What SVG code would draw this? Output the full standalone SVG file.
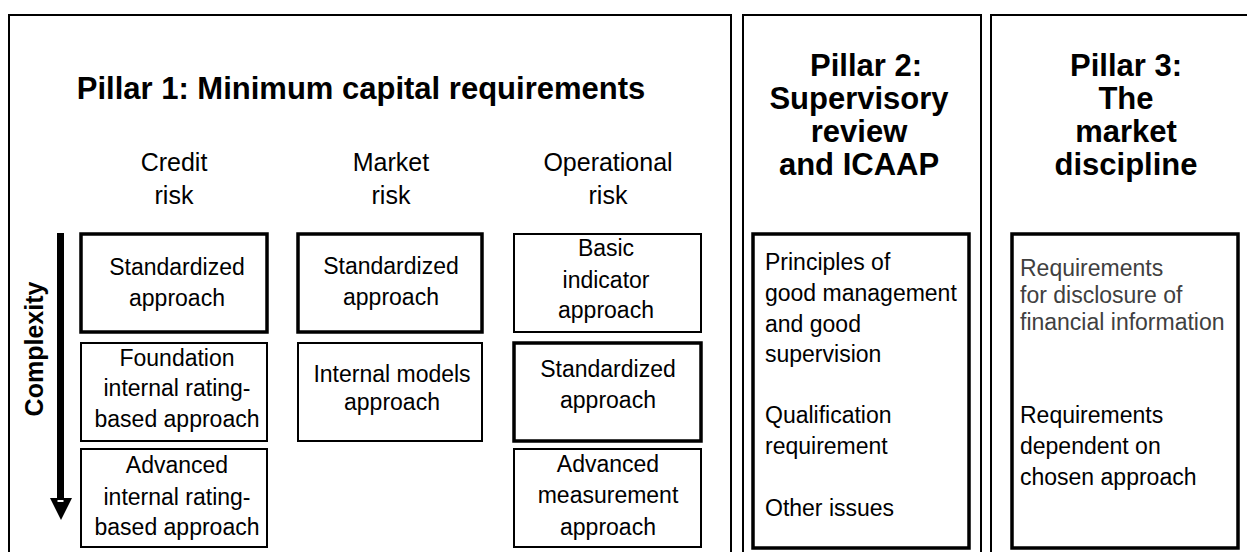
<svg xmlns="http://www.w3.org/2000/svg" width="1247" height="552" viewBox="0 0 1247 552">
  <style>
    .frame { fill: none; stroke: #000; stroke-width: 2; }
    .box { fill: #fff; stroke: #000; stroke-width: 2; }
    .strong { stroke-width: 3.5; }
    text { font-family: "Liberation Sans", Arial, sans-serif; fill: #000; }
    .title { font-size: 31px; font-weight: bold; text-anchor: middle; }
    .col { font-size: 25px; text-anchor: middle; }
    .item { font-size: 23px; text-anchor: middle; }
    .list { font-size: 23px; }
    .muted { fill: #404040; }
    .axis { font-size: 25px; font-weight: bold; text-anchor: middle; }
  </style>

  <rect width="1247" height="552" fill="#fff"/>

  <!-- Pillar 1 frame, heading and risk columns -->
  <g id="pillar1">
    <rect class="frame" x="9" y="15" width="722" height="560"/>
    <text class="title" x="361" y="99">Pillar 1: Minimum capital requirements</text>
    <text class="col" x="174" y="171">Credit</text>
    <text class="col" x="174" y="204">risk</text>
    <text class="col" x="391" y="171">Market</text>
    <text class="col" x="391" y="204">risk</text>
    <text class="col" x="608" y="171">Operational</text>
    <text class="col" x="608" y="204">risk</text>
  </g>

  <!-- Credit risk approaches -->
  <g id="credit-standardized">
    <rect class="box strong" x="81" y="234" width="186" height="98"/>
    <text class="item" x="177" y="275">Standardized</text>
    <text class="item" x="177" y="306">approach</text>
  </g>
  <g id="credit-foundation-irb">
    <rect class="box" x="81" y="343" width="186" height="98"/>
    <text class="item" x="177" y="366">Foundation</text>
    <text class="item" x="177" y="396">internal rating-</text>
    <text class="item" x="177" y="427">based approach</text>
  </g>
  <g id="credit-advanced-irb">
    <rect class="box" x="81" y="449" width="186" height="98"/>
    <text class="item" x="177" y="473">Advanced</text>
    <text class="item" x="177" y="505">internal rating-</text>
    <text class="item" x="177" y="535">based approach</text>
  </g>

  <!-- Market risk approaches -->
  <g id="market-standardized">
    <rect class="box strong" x="298" y="234" width="184" height="98"/>
    <text class="item" x="391" y="274">Standardized</text>
    <text class="item" x="391" y="305">approach</text>
  </g>
  <g id="market-internal-models">
    <rect class="box" x="298" y="343" width="184" height="98"/>
    <text class="item" x="392" y="382">Internal models</text>
    <text class="item" x="392" y="410">approach</text>
  </g>

  <!-- Operational risk approaches -->
  <g id="operational-basic">
    <rect class="box" x="514" y="234" width="187" height="98"/>
    <text class="item" x="606" y="256">Basic</text>
    <text class="item" x="606" y="288">indicator</text>
    <text class="item" x="606" y="318">approach</text>
  </g>
  <g id="operational-standardized">
    <rect class="box strong" x="514" y="343" width="187" height="98"/>
    <text class="item" x="608" y="377">Standardized</text>
    <text class="item" x="608" y="408">approach</text>
  </g>
  <g id="operational-advanced">
    <rect class="box" x="514" y="449" width="187" height="98"/>
    <text class="item" x="608" y="472">Advanced</text>
    <text class="item" x="608" y="503">measurement</text>
    <text class="item" x="608" y="535">approach</text>
  </g>

  <!-- Complexity axis: thick downward arrow with rotated label -->
  <g id="complexity">
    <rect x="57" y="233" width="7" height="268" fill="#000"/>
    <polygon points="50,498 72,498 61,520" fill="#000"/>
    <rect x="57.5" y="500" width="6" height="2" fill="#fff"/>
    <text class="axis" transform="translate(43,349) rotate(-90)">Complexity</text>
  </g>

  <!-- Pillar 2 -->
  <g id="pillar2">
    <rect class="frame" x="743" y="15" width="238" height="560"/>
    <text class="title" x="866" y="76">Pillar 2:</text>
    <text class="title" x="859" y="109">Supervisory</text>
    <text class="title" x="859" y="142">review</text>
    <text class="title" x="859" y="175">and ICAAP</text>
  </g>
  <g id="pillar2-content">
    <rect class="box strong" x="753" y="234" width="216" height="314"/>
    <text class="list" x="765" y="270">Principles of</text>
    <text class="list" x="765" y="301">good management</text>
    <text class="list" x="765" y="332">and good</text>
    <text class="list" x="765" y="362">supervision</text>
    <text class="list" x="765" y="423">Qualification</text>
    <text class="list" x="765" y="454">requirement</text>
    <text class="list" x="765" y="516">Other issues</text>
  </g>

  <!-- Pillar 3 -->
  <g id="pillar3">
    <rect class="frame" x="991" y="15" width="280" height="560"/>
    <text class="title" x="1126" y="76">Pillar 3:</text>
    <text class="title" x="1126" y="109">The</text>
    <text class="title" x="1126" y="142">market</text>
    <text class="title" x="1126" y="175">discipline</text>
  </g>
  <g id="pillar3-content">
    <rect class="box strong" x="1012" y="234" width="226" height="314"/>
    <text class="list muted" x="1020" y="276">Requirements</text>
    <text class="list muted" x="1020" y="303">for disclosure of</text>
    <text class="list muted" x="1020" y="330">financial information</text>
    <text class="list" x="1020" y="423">Requirements</text>
    <text class="list" x="1020" y="454">dependent on</text>
    <text class="list" x="1020" y="485">chosen approach</text>
  </g>
</svg>
